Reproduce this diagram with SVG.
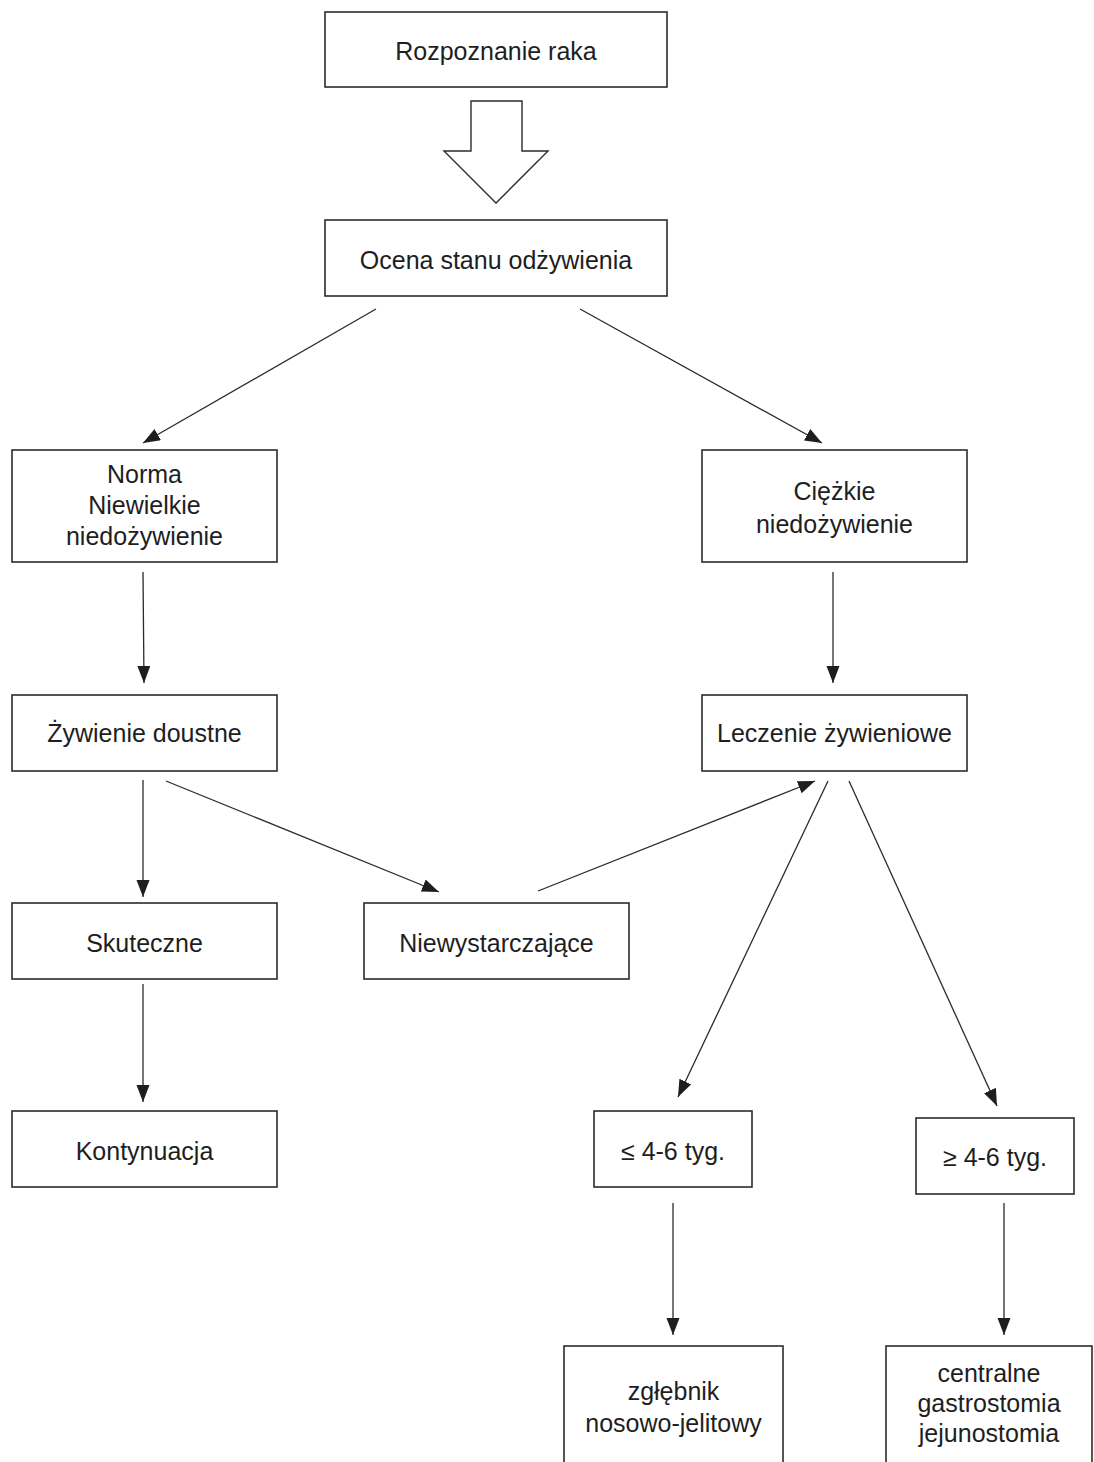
<svg xmlns="http://www.w3.org/2000/svg" width="1094" height="1462" viewBox="0 0 1094 1462">
  <style>
    .box { fill: #ffffff; stroke: #2b2b2b; stroke-width: 1.6; }
    .lbl { font-family: "Liberation Sans", Arial, sans-serif; font-size: 25px; fill: #1e1e1e; text-anchor: middle; }
    .link { fill: none; stroke: #2b2b2b; stroke-width: 1.3; marker-end: url(#head); }
    .big { fill: #ffffff; stroke: #2b2b2b; stroke-width: 1.4; stroke-linejoin: miter; }
  </style>
  <defs>
    <marker id="head" markerUnits="userSpaceOnUse" markerWidth="18" markerHeight="14" refX="17" refY="6.5" orient="auto">
      <path d="M0,0 L17,6.5 L0,13 z" fill="#1e1e1e"/>
    </marker>
  </defs>
  <rect width="1094" height="1462" fill="#ffffff"/>

  <!-- nodes -->
  <g id="n-rozpoznanie">
    <rect class="box" x="325" y="12" width="342" height="75"/>
    <text class="lbl" x="496" y="60">Rozpoznanie raka</text>
  </g>
  <g id="n-ocena">
    <rect class="box" x="325" y="220" width="342" height="76"/>
    <text class="lbl" x="496" y="269">Ocena stanu odżywienia</text>
  </g>
  <g id="n-norma">
    <rect class="box" x="12" y="450" width="265" height="112"/>
    <text class="lbl" x="144.5" y="483">Norma</text>
    <text class="lbl" x="144.5" y="514">Niewielkie</text>
    <text class="lbl" x="144.5" y="545">niedożywienie</text>
  </g>
  <g id="n-ciezkie">
    <rect class="box" x="702" y="450" width="265" height="112"/>
    <text class="lbl" x="834.5" y="500">Ciężkie</text>
    <text class="lbl" x="834.5" y="533">niedożywienie</text>
  </g>
  <g id="n-doustne">
    <rect class="box" x="12" y="695" width="265" height="76"/>
    <text class="lbl" x="144.5" y="742">Żywienie doustne</text>
  </g>
  <g id="n-leczenie">
    <rect class="box" x="702" y="695" width="265" height="76"/>
    <text class="lbl" x="834.5" y="742">Leczenie żywieniowe</text>
  </g>
  <g id="n-skuteczne">
    <rect class="box" x="12" y="903" width="265" height="76"/>
    <text class="lbl" x="144.5" y="952">Skuteczne</text>
  </g>
  <g id="n-niewystarczajace">
    <rect class="box" x="364" y="903" width="265" height="76"/>
    <text class="lbl" x="496.5" y="952">Niewystarczające</text>
  </g>
  <g id="n-kontynuacja">
    <rect class="box" x="12" y="1111" width="265" height="76"/>
    <text class="lbl" x="144.5" y="1160">Kontynuacja</text>
  </g>
  <g id="n-krotko">
    <rect class="box" x="594" y="1111" width="158" height="76"/>
    <text class="lbl" x="673" y="1160">≤ 4-6 tyg.</text>
  </g>
  <g id="n-dlugo">
    <rect class="box" x="916" y="1118" width="158" height="76"/>
    <text class="lbl" x="995" y="1166">≥ 4-6 tyg.</text>
  </g>
  <g id="n-zglebnik">
    <rect class="box" x="564" y="1346" width="219" height="140"/>
    <text class="lbl" x="673.5" y="1400">zgłębnik</text>
    <text class="lbl" x="673.5" y="1432">nosowo-jelitowy</text>
  </g>
  <g id="n-stomia">
    <rect class="box" x="886" y="1346" width="206" height="140"/>
    <text class="lbl" x="989" y="1382">centralne</text>
    <text class="lbl" x="989" y="1412">gastrostomia</text>
    <text class="lbl" x="989" y="1442">jejunostomia</text>
  </g>

  <!-- connectors -->
  <g id="connectors">
    <path class="big" d="M471,101 L522,101 L522,151 L548,151 L496,203 L444,151 L471,151 Z"/>
    <line class="link" x1="376" y1="309" x2="143" y2="443"/>
    <line class="link" x1="580" y1="309" x2="822" y2="443"/>
    <line class="link" x1="143" y1="572" x2="144" y2="683"/>
    <line class="link" x1="833" y1="572" x2="833" y2="683"/>
    <line class="link" x1="143" y1="780" x2="143" y2="897"/>
    <line class="link" x1="166" y1="781" x2="439" y2="892"/>
    <line class="link" x1="538" y1="891" x2="815" y2="781"/>
    <line class="link" x1="143" y1="984" x2="143" y2="1102"/>
    <line class="link" x1="828" y1="781" x2="678" y2="1097"/>
    <line class="link" x1="849" y1="781" x2="997" y2="1106"/>
    <line class="link" x1="673" y1="1203" x2="673" y2="1335"/>
    <line class="link" x1="1004" y1="1203" x2="1004" y2="1335"/>
  </g>
</svg>
